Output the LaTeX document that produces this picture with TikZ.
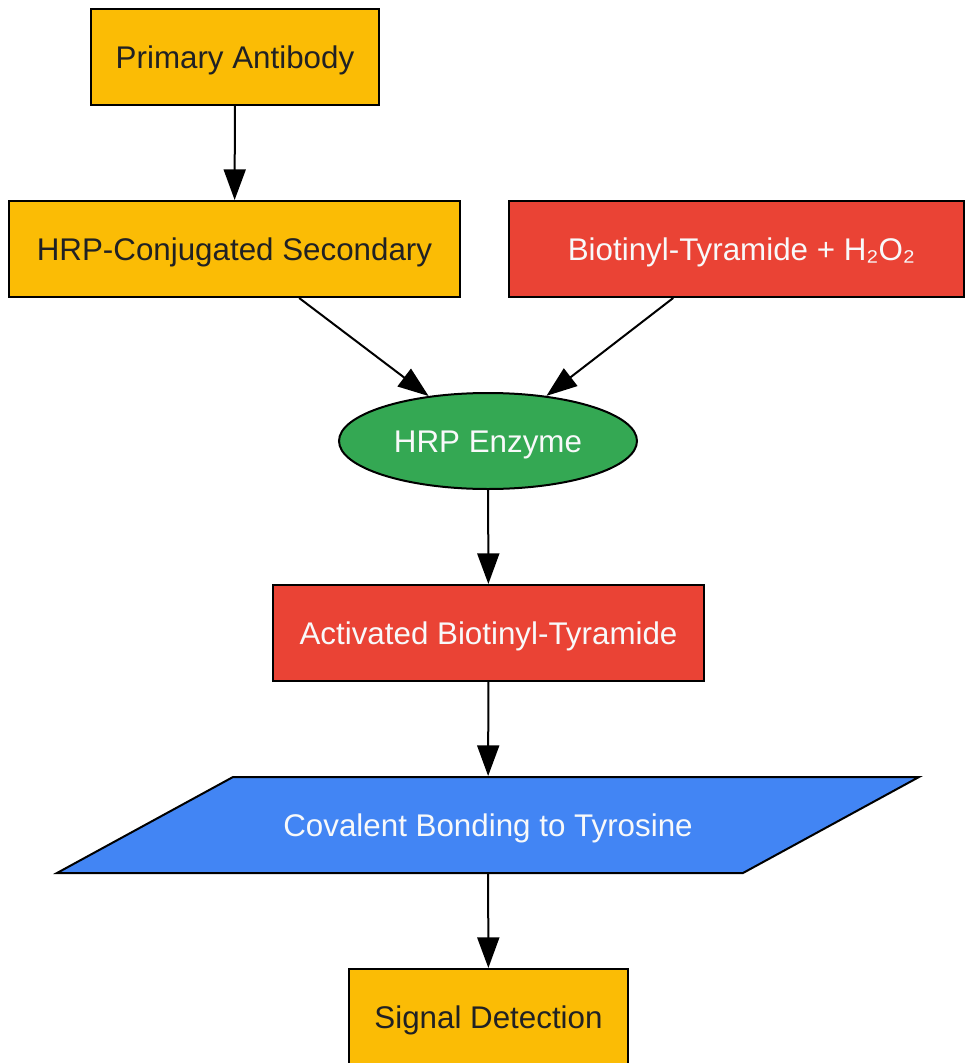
\documentclass[tikz,border=0pt]{standalone}
\usepackage{fontspec}
\setmainfont{Liberation Sans}
\usetikzlibrary{arrows.meta,shapes.geometric}
\definecolor{zlta}{HTML}{FBBC05}
\definecolor{cervena}{HTML}{EA4335}
\definecolor{zelena}{HTML}{34A853}
\definecolor{modra}{HTML}{4285F4}
\definecolor{tmava}{HTML}{202124}
\definecolor{svetla}{HTML}{F8F9FA}
\begin{document}
\begin{tikzpicture}[x=0.75pt,y=-0.75pt]
    \tikzstyle{blok}= [draw, line width=1.5pt, minimum height=72pt, inner sep=0pt, text height=22pt, text depth=5pt, font=\fontsize{23.5}{28}\selectfont]
    \tikzstyle{blokA}= [blok, fill=zlta, text=tmava]
    \tikzstyle{blokB}= [blok, fill=cervena, text=svetla]
    \tikzstyle{sipka}= [line width=1.5pt, -{Triangle[length=23pt,width=16.5pt]}]
  \useasboundingbox (0,0) rectangle (966,1063);

  \node[blokA, minimum width=216pt] (primary) at (235,57) {Primary Antibody};
  \node[blokA, minimum width=338.25pt] (conj) at (234.5,249) {HRP-Conjugated Secondary};
  \node[blokB, minimum width=341.25pt] (biotin) at (736.5,249) {\hspace*{7.5pt}Biotinyl-Tyramide + H₂O₂};
  \node[blok, ellipse, fill=zelena, text=svetla, minimum width=223.5pt] (enz) at (488,441) {HRP Enzyme};
  \node[blokB, minimum width=323.25pt] (act) at (488.5,633) {Activated Biotinyl-Tyramide};

  % parallelogram
  \coordinate (covc) at (488,825);
  \filldraw[line width=1.5pt, fill=modra, line join=miter, shift={(covc)}]
    (-431,48) -- (-255,-48) -- (431,-48) -- (255,48) -- cycle;
  \node[blok, draw=none, minimum width=514.5pt, text=svetla] (cov) at (covc) {Covalent Bonding to Tyrosine};

  \node[blokA, minimum width=209.25pt] (signal) at (488.5,1017) {Signal Detection};

  \foreach \a/\b in {primary/conj, conj/enz, biotin/enz, enz/act, act/cov, cov/signal}
    \draw[sipka] (\a) -- (\b);
\end{tikzpicture}
\end{document}
